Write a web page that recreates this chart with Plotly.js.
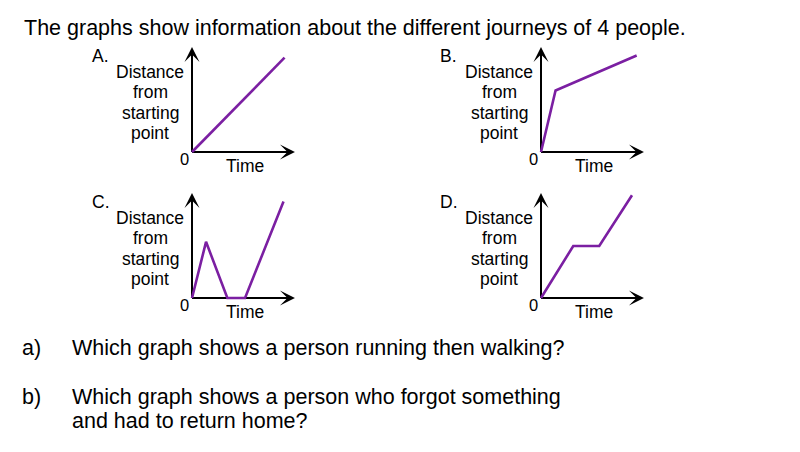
<!DOCTYPE html>
<html>
<head>
<meta charset="utf-8">
<script src="https://cdn.plot.ly/plotly-3.0.1.min.js"></script>
<style>html,body{margin:0;padding:0;background:#fff;}#chart{width:800px;height:452px;}</style>
</head>
<body>
<div id="chart"></div>
<script>
// ---- data ----
const graphLabels = ['A.', 'B.', 'C.', 'D.'];
const timeA = [0, 8.9];
const distA = [0, 8.9];
const timeB = [0, 1.4, 9.2];
const distB = [0, 5.8, 9.1];
const timeC = [0, 1.35, 3.4, 5.1, 8.8];
const distC = [0, 5.3, 0, 0, 9.1];
const timeD = [0, 3.1, 5.6, 8.75];
const distD = [0, 4.9, 4.9, 9.7];
const yLabelLines = ['Distance', 'from', 'starting', 'point'];
const xLabel = 'Time';
const originLabel = '0';
const titleText = 'The graphs show information about the different journeys of 4 people.';
const questionMarks = ['a)', 'b)'];
const questionLines = [['Which graph shows a person running then walking?'],
                       ['Which graph shows a person who forgot something', 'and had to return home?']];

// ---- layout geometry (pixels) ----
const W = 800, H = 452;
const FONT = '"Liberation Sans", Arial, sans-serif';
const PURPLE = '#7b1fa2';
const origins = [[192, 152], [541, 152], [192, 298], [541, 298]];
const pxX = 10.4, pxY = 10.6;   // pixels per data unit
const px = v => v / W;
const py = v => 1 - v / H;

const series = [[timeA, distA], [timeB, distB], [timeC, distC], [timeD, distD]];
const traces = [];
const layout = {
  width: W, height: H, autosize: false,
  margin: {l: 0, r: 0, t: 0, b: 0},
  paper_bgcolor: '#fff', plot_bgcolor: 'rgba(0,0,0,0)',
  showlegend: false,
  font: {family: FONT, color: '#000'},
  shapes: [], annotations: []
};

function txt(x, baseline, text, size, xanchor) {
  const a = xanchor || 'center';
  layout.annotations.push({
    xref: 'paper', yref: 'paper', x: px(a === 'left' ? x - 1.5 : x), y: py(baseline - 0.3465 * size),
    xanchor: a, yanchor: 'middle', showarrow: false, borderpad: 0,
    text: text, font: {family: FONT, size: size, color: '#000'}
  });
}

series.forEach((s, i) => {
  const n = i === 0 ? '' : String(i + 1);
  const [ox, oy] = origins[i];
  const xa = 'xaxis' + n, ya = 'yaxis' + n;
  const xr = 'x' + n, yr = 'y' + n;
  layout[xa] = {domain: [px(ox - pxX), px(ox + 11 * pxX)], range: [-1, 11], anchor: yr,
    showgrid: false, zeroline: false, showticklabels: false, ticks: '', showline: false, fixedrange: true};
  layout[ya] = {domain: [py(oy + pxY), py(oy - 11 * pxY)], range: [-1, 11], anchor: xr,
    showgrid: false, zeroline: false, showticklabels: false, ticks: '', showline: false, fixedrange: true};
  traces.push({x: s[0], y: s[1], xaxis: xr, yaxis: yr, type: 'scatter', mode: 'lines',
    line: {color: PURPLE, width: 2.6}, hoverinfo: 'skip'});
  // axis shafts
  layout.shapes.push({type: 'line', xref: xr, yref: yr, x0: 0, y0: 0, x1: 0, y1: 9.3, layer: 'below', line: {color: '#000', width: 2}});
  layout.shapes.push({type: 'line', xref: xr, yref: yr, x0: 0, y0: 0, x1: 9.3, y1: 0, layer: 'below', line: {color: '#000', width: 2}});
  // arrowheads
  layout.annotations.push({xref: xr, yref: yr, axref: xr, ayref: yr, x: 0, y: 9.9, ax: 0, ay: 8.8, text: '',
    showarrow: true, arrowhead: 3, arrowwidth: 2, arrowsize: 1.25, arrowcolor: '#000', standoff: 0});
  layout.annotations.push({xref: xr, yref: yr, axref: xr, ayref: yr, x: 9.9, y: 0, ax: 8.8, ay: 0, text: '',
    showarrow: true, arrowhead: 3, arrowwidth: 2, arrowsize: 1.25, arrowcolor: '#000', standoff: 0});
  // labels
  const lx = ox - 42;
  txt(ox - 100, oy - 90, graphLabels[i], 17.5, 'left');
  yLabelLines.forEach((t, k) => txt(lx, oy - 74 + k * 20.4, t, 17.5));
  txt(ox - 7.5, oy + 13, originLabel, 16.5);
  txt(ox + 53, oy + 20, xLabel, 17.5);
});

txt(24, 35, titleText, 21.5, 'left');
txt(22, 355, questionMarks[0], 21.5, 'left');
txt(72, 355, questionLines[0][0], 21.5, 'left');
txt(22, 404, questionMarks[1], 21.5, 'left');
txt(72, 404, questionLines[1][0], 21.5, 'left');
txt(72, 428.5, questionLines[1][1], 21.5, 'left');

Plotly.newPlot('chart', traces, layout, {staticPlot: true, displayModeBar: false});
</script>
</body>
</html>
